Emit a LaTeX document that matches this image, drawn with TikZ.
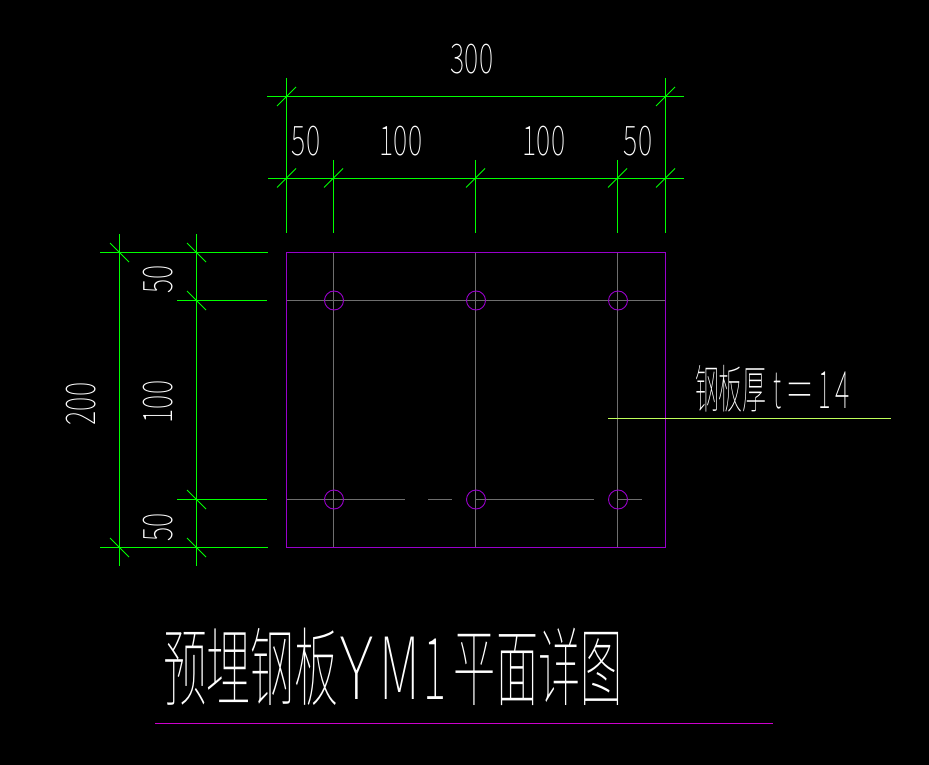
\documentclass[tikz,border=0pt]{standalone}
\usepackage{fontspec}
\newfontfamily\cadf[UprightFont={* Thin}]{Noto Sans CJK SC}
\definecolor{cadgreen}{RGB}{0,255,0}
\definecolor{cadpurple}{RGB}{153,0,204}
\definecolor{cadgray}{RGB}{110,110,110}
\definecolor{cadlime}{RGB}{190,255,90}
\definecolor{cadmag}{RGB}{204,0,204}
\tikzset{
  dimline/.style={draw=cadgreen,line width=1pt},
  tickline/.style={draw=cadgreen,line width=0.8pt},
  axisline/.style={draw=cadgray,line width=1pt},
  plate/.style={draw=cadpurple,line width=1.1pt},
  hole/.style={draw=cadpurple,line width=0.9pt},
  cadtext/.style={text=white,inner sep=0pt,outer sep=0pt,font=\cadf\fontsize{41}{41}\selectfont,transform shape,xscale=0.66},
  cadwide/.style={text=white,inner sep=0pt,outer sep=0pt,transform shape},
}
\begin{document}
\begin{tikzpicture}[x=1pt,y=-1pt]
\useasboundingbox[fill=black] (0,0) rectangle (929,765);
% top dimension lines
\draw[dimline] (267,96.5) -- (684,96.5);
\draw[dimline] (268,178) -- (684,178);
\draw[dimline] (286.5,78) -- (286.5,233);
\draw[dimline] (665.5,78) -- (665.5,233);
\foreach \x in {333.5,475.5,617.5} \draw[dimline] (\x,160) -- (\x,233);
\foreach \x/\y in {286.5/96.5,665.5/96.5,286.5/178,333.5/178,475.5/178,617.5/178,665.5/178}
  \draw[tickline] (\x-9.5,\y+9.5) -- (\x+9.5,\y-9.5);
% left dimension lines
\draw[dimline] (119.5,234) -- (119.5,566);
\draw[dimline] (196.5,234) -- (196.5,566);
\draw[dimline] (100,252.5) -- (268,252.5);
\draw[dimline] (177,300.5) -- (267,300.5);
\draw[dimline] (177,499.5) -- (267,499.5);
\draw[dimline] (100,547.5) -- (268,547.5);
\foreach \x/\y in {119.5/252.5,119.5/547.5,196.5/252.5,196.5/300.5,196.5/499.5,196.5/547.5}
  \draw[tickline] (\x-9.5,\y-9.5) -- (\x+9.5,\y+9.5);
% axes
\foreach \x in {333.5,475.5,617.5} \draw[axisline] (\x,252.5) -- (\x,547.5);
\draw[axisline] (286.5,300.5) -- (665.5,300.5);
\draw[axisline] (286.5,499.5) -- (405,499.5);
\draw[axisline] (428,499.5) -- (452,499.5);
\draw[axisline] (475.5,499.5) -- (594,499.5);
\draw[axisline] (617.5,499.5) -- (642,499.5);
% plate and holes
\draw[plate] (286.5,252.5) rectangle (665.5,547.5);
\foreach \x in {333.5,475.5,617.5} \foreach \y in {300.5,499.5}
  \draw[hole] (\x+0.5,\y) circle (9.5);
% leader
\draw[draw=cadlime,line width=1pt] (608,418.5) -- (891,418.5);
\draw[draw=cadmag,line width=0.8pt] (155,723) -- (773,723);
% labels
\node[cadtext] (t300) at (472,59) {300};
\node[cadtext] (t50a) at (306,141) {50};
\node[cadtext] (t100a) at (401,141) {100};
\node[cadtext] (t100b) at (544,141) {100};
\node[cadtext] (t50b) at (638,141) {50};
\node[rotate=90,cadtext] (t200) at (81,404) {200};
\node[rotate=90,cadtext] (t50c) at (158,279) {50};
\node[rotate=90,cadtext] (t100c) at (158,402) {100};
\node[rotate=90,cadtext] (t50d) at (158,527) {50};
\node[cadwide,anchor=west,xscale=0.46,font=\cadf\fontsize{52}{52}\selectfont] (tthk) at (695,389) {钢板厚\hspace{14pt}t\hspace{14pt}\scalebox{2}[1]{=}\hspace{12pt}1\hspace{10pt}\scalebox{1.15}[1]{4}};
\node[cadwide,anchor=west,xscale=0.51,font=\cadf\fontsize{86}{86}\selectfont] (ttitle) at (163,667) {预埋钢板\hspace{4pt}\scalebox{1.55}[1]{Y}\hspace{12pt}\scalebox{1.2}[1]{M}\hspace{8pt}1\hspace{14pt}\scalebox{0.96}[1]{平面详图}};
\end{tikzpicture}
\end{document}
